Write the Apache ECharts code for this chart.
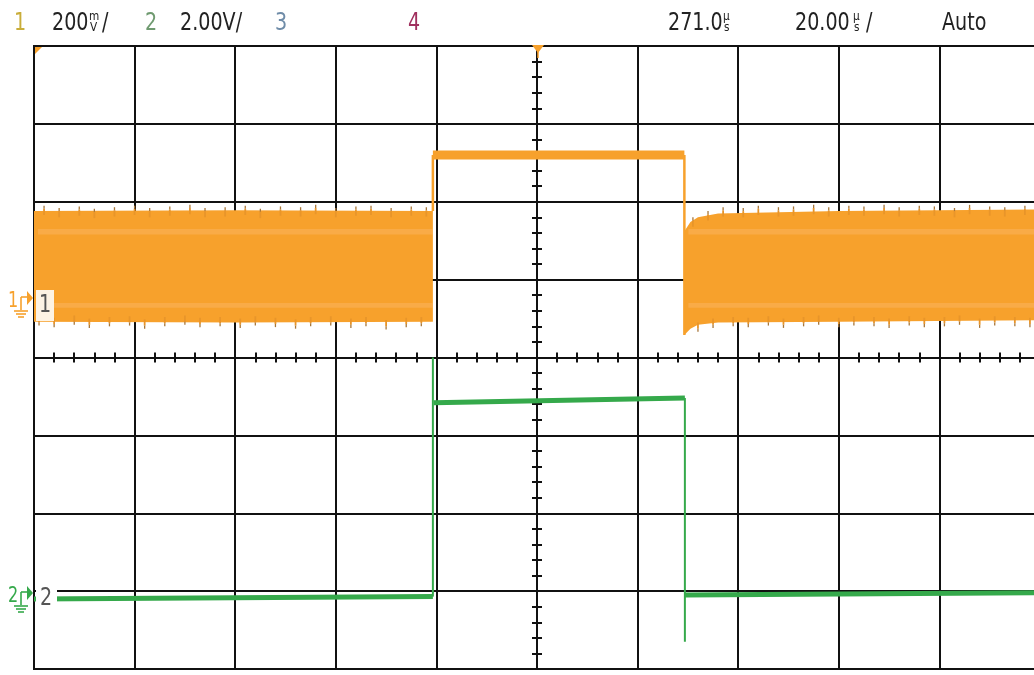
<!DOCTYPE html>
<html><head><meta charset="utf-8">
<script src="https://cdn.jsdelivr.net/npm/echarts@6/dist/echarts.min.js"></script>
<style>html,body{margin:0;padding:0;background:#fff}#c{width:1034px;height:675px}</style>
</head><body><div id="c"></div>
<script>
// ---- axes: time in µs relative to screen centre (20 µs/div), vertical in divisions ----
const timeRange = [-100, 100];
const divRange = [-4, 4];

// ---- header readouts ----
const headerMain = ['1', '200', '/', '2', '2.00V/', '3', '4', '271.0', '20.00', '/', 'Auto'];
const headerUnits = [['m', 'V'], ['µ', 's'], ['µ', 's']];

// ---- channel 1 (orange): noisy band before/after the pulse, flat level during pulse ----
const ch1BandLeftX = [-100, -60, -20.7];
const ch1BandLeftTop = [1.88, 1.89, 1.88];
const ch1BandLeftBottom = [0.46, 0.45, 0.46];
const ch1BandRightX = [29.3, 30.5, 32, 36, 60, 100];
const ch1BandRightTop = [1.62, 1.74, 1.80, 1.85, 1.88, 1.90];
const ch1BandRightBottom = [0.29, 0.37, 0.42, 0.45, 0.46, 0.48];
const ch1Stripes = [[1.58, 1.65], [0.64, 0.70]];
// noise spikes on the band edges (tip positions)
const ch1TopSpikeX = [-98,-95,-91,-88,-84,-80,-77,-73,-69,-66,-62,-58,-55,-51,-47,-44,-40,-36,-33,-29,-25,-22,
                      31,34,37,41,44,48,51,55,58,62,65,69,72,76,79,83,86,90,93,97];
const ch1TopSpikeY = [1.95,1.92,1.94,1.91,1.93,1.95,1.92,1.94,1.96,1.92,1.93,1.95,1.91,1.94,1.93,1.96,1.92,1.94,1.95,1.92,1.94,1.93,
                      1.80,1.88,1.93,1.92,1.95,1.93,1.94,1.96,1.93,1.95,1.94,1.96,1.93,1.95,1.94,1.92,1.96,1.94,1.93,1.95];
const ch1BottomSpikeX = [-99,-96,-92,-89,-85,-81,-78,-74,-70,-67,-63,-59,-56,-52,-48,-45,-41,-37,-34,-30,-26,-23,
                         32,35,39,42,46,49,53,56,60,63,67,70,74,77,81,84,88,91,95,98];
const ch1BottomSpikeY = [0.41,0.39,0.42,0.38,0.40,0.41,0.37,0.40,0.42,0.39,0.40,0.38,0.41,0.39,0.37,0.40,0.41,0.38,0.40,0.36,0.39,0.40,
                         0.33,0.38,0.40,0.39,0.41,0.38,0.40,0.42,0.39,0.41,0.40,0.38,0.41,0.39,0.40,0.42,0.38,0.41,0.40,0.39];
const ch1PulseX = [-20.7, 29.3];
const ch1PulseLevel = [2.60, 2.60];
const ch1RiseX = [-20.7, -20.7];
const ch1RiseY = [1.88, 2.60];
const ch1FallX = [29.3, 29.3];
const ch1FallY = [2.60, 0.29];

// ---- channel 2 (green): logic-level pulse ----
const ch2LowLeftX = [-100, -20.7];
const ch2LowLeftY = [-3.10, -3.07];
const ch2RiseX = [-20.7, -20.7];
const ch2RiseY = [-3.07, 0.0];
const ch2HighX = [-20.5, 29.4];
const ch2HighY = [-0.58, -0.52];
const ch2FallX = [29.4, 29.4];
const ch2FallY = [-0.52, -3.65];
const ch2LowRightX = [29.4, 100];
const ch2LowRightY = [-3.05, -3.02];

const ORANGE = '#f7a12c';
const ORANGE_LIGHT = '#fab868';
const GREEN = '#35a94b';

const zip = (xs, ys) => xs.map((x, i) => [x, ys[i]]);

function bandSeries(xs, tops, bottoms) {
  return {
    type: 'custom', z: 3, silent: true, data: [0],
    renderItem: function (params, api) {
      const pts = [];
      xs.forEach((x, i) => pts.push(api.coord([x, tops[i]])));
      for (let i = xs.length - 1; i >= 0; i--) pts.push(api.coord([xs[i], bottoms[i]]));
      const children = [{ type: 'polygon', shape: { points: pts }, style: { fill: ORANGE } }];
      ch1Stripes.forEach(s => {
        const a = api.coord([xs[0], s[1]]);
        const b = api.coord([xs[xs.length - 1], s[0]]);
        children.push({ type: 'rect', shape: { x: a[0] + 4, y: a[1], width: b[0] - a[0] - 4, height: b[1] - a[1] },
          style: { fill: ORANGE_LIGHT, opacity: 0.45 } });
      });
      return { type: 'group', children: children };
    }
  };
}

function spikeSeries(xs, ys, dir) {
  return {
    type: 'custom', z: 3, silent: true, data: [0],
    renderItem: function (params, api) {
      const children = [];
      xs.forEach((x, i) => {
        const a = api.coord([x, ys[i]]);
        const b = api.coord([x, ys[i] - dir * 0.12]);
        const m = api.coord([x, ys[i] - dir * 0.04]);
        children.push({ type: 'line', shape: { x1: m[0], y1: m[1], x2: b[0], y2: b[1] },
          style: { stroke: '#e8952a', lineWidth: 1.8 } });
        children.push({ type: 'line', shape: { x1: a[0], y1: a[1], x2: m[0], y2: m[1] },
          style: { stroke: '#a8773a', lineWidth: 1.3 } });
      });
      return { type: 'group', children: children };
    }
  };
}

function lineSeries(data, color, width, z) {
  return { type: 'line', data: data, symbol: 'none', silent: true, z: z || 4,
    lineStyle: { color: color, width: width, cap: 'butt' }, animation: false };
}

const FONT_FAMILY = '"Liberation Sans Narrow","DejaVu Sans Condensed","DejaVu Sans",sans-serif';

function groundMarker(x, y, color, num) {
  return {
    type: 'group', x: x, y: y, z: 12, children: [
      { type: 'text', x: 0, y: -12, scaleX: 0.85, style: { text: num, font: '21px ' + FONT_FAMILY, fill: color } },
      { type: 'line', shape: { x1: 13, y1: -6, x2: 13, y2: 7 }, style: { stroke: color, lineWidth: 1.6 } },
      { type: 'line', shape: { x1: 13, y1: -6, x2: 19, y2: -6 }, style: { stroke: color, lineWidth: 1.6 } },
      { type: 'line', shape: { x1: 6, y1: 8, x2: 20, y2: 8 }, style: { stroke: color, lineWidth: 1.6 } },
      { type: 'line', shape: { x1: 8, y1: 11, x2: 18, y2: 11 }, style: { stroke: color, lineWidth: 1.6 } },
      { type: 'line', shape: { x1: 10, y1: 14, x2: 16, y2: 14 }, style: { stroke: color, lineWidth: 1.6 } },
      { type: 'polygon', shape: { points: [[19, -12], [25, -5], [19, 2]] }, style: { fill: color } }
    ]
  };
}

const HFONT = '25px ' + FONT_FAMILY;
const UFONT = '13px ' + FONT_FAMILY;
const headerX = [14, 52, 102, 145, 180, 275, 408, 668, 795, 866, 942];
const headerColors = ['#c9ad3a', '#222', '#222', '#6f9a70', '#222', '#6f8ca8', '#a0305e', '#222', '#222', '#222', '#222'];
const unitX = [89, 723, 853];

const chart = echarts.init(document.getElementById('c'), null, { renderer: 'canvas' });
const thinAxis = (inside) => ({
  type: 'value', min: timeRange[0], max: timeRange[1], interval: 4,
  axisLine: { show: true, onZero: true, onZeroAxisIndex: 0, lineStyle: { color: '#111', width: 2 } },
  axisTick: { show: true, inside: inside, length: 5, lineStyle: { color: '#111', width: 2 } },
  axisLabel: { show: false }, splitLine: { show: false }
});
const thinYAxis = (inside) => ({
  type: 'value', min: divRange[0], max: divRange[1], interval: 0.2,
  axisLine: { show: true, onZero: true, onZeroAxisIndex: 0, lineStyle: { color: '#111', width: 2 } },
  axisTick: { show: true, inside: inside, length: 5, lineStyle: { color: '#111', width: 2 } },
  axisLabel: { show: false }, splitLine: { show: false }
});

const graphics = [];
headerMain.forEach((t, i) => graphics.push({ type: 'text', x: headerX[i], y: 23, z: 10, scaleX: 0.85,
  style: { text: t, font: HFONT, fill: headerColors[i], verticalAlign: 'middle' } }));
headerUnits.forEach((u, i) => {
  graphics.push({ type: 'text', x: unitX[i], y: 17, z: 10, scaleX: 0.9, style: { text: u[0], font: UFONT, fill: '#222', verticalAlign: 'middle' } });
  graphics.push({ type: 'text', x: unitX[i] + 1, y: 28, z: 10, scaleX: 0.9, style: { text: u[1], font: UFONT, fill: '#222', verticalAlign: 'middle' } });
});
graphics.push(
  { type: 'polygon', z: 10, shape: { points: [[532, 45], [544, 45], [538, 53]] }, style: { fill: ORANGE } },
  { type: 'line', z: 10, shape: { x1: 538, y1: 50, x2: 538, y2: 58 }, style: { stroke: ORANGE, lineWidth: 1.5 } },
  { type: 'polygon', z: 10, shape: { points: [[35, 47], [42, 47], [35, 54]] }, style: { fill: ORANGE } },
  groundMarker(8, 303, ORANGE, '1'),
  groundMarker(8, 598, GREEN, '2'),
  { type: 'rect', z: 10, shape: { x: 36, y: 290, width: 18, height: 31 }, style: { fill: '#fdf3e4' } },
  { type: 'text', z: 11, x: 39, y: 305, scaleX: 0.85, style: { text: '1', font: HFONT, fill: '#555', verticalAlign: 'middle' } },
  { type: 'rect', z: 10, shape: { x: 36, y: 586, width: 21, height: 24 }, style: { fill: '#ffffff' } },
  { type: 'text', z: 11, x: 40, y: 598, scaleX: 0.85, style: { text: '2', font: HFONT, fill: '#555', verticalAlign: 'middle' } }
);

chart.setOption({
  animation: false,
  backgroundColor: '#ffffff',
  grid: { left: 34, top: 46, width: 1006, height: 623, outerBoundsMode: 'none',
    show: true, borderColor: '#111', borderWidth: 2, backgroundColor: 'transparent' },
  xAxis: [
    { type: 'value', min: timeRange[0], max: timeRange[1], interval: 20,
      axisLine: { show: false }, axisTick: { show: false }, axisLabel: { show: false },
      splitLine: { show: true, lineStyle: { color: '#111', width: 2 } } },
    thinAxis(false), thinAxis(true)
  ],
  yAxis: [
    { type: 'value', min: divRange[0], max: divRange[1], interval: 1,
      axisLine: { show: false }, axisTick: { show: false }, axisLabel: { show: false },
      splitLine: { show: true, lineStyle: { color: '#111', width: 2 } } },
    thinYAxis(false), thinYAxis(true)
  ],
  series: [
    bandSeries(ch1BandLeftX, ch1BandLeftTop, ch1BandLeftBottom),
    bandSeries(ch1BandRightX, ch1BandRightTop, ch1BandRightBottom),
    spikeSeries(ch1TopSpikeX, ch1TopSpikeY, 1),
    spikeSeries(ch1BottomSpikeX, ch1BottomSpikeY, -1),
    lineSeries(zip(ch1RiseX, ch1RiseY), ORANGE, 2.5),
    lineSeries(zip(ch1FallX, ch1FallY), ORANGE, 2.5),
    lineSeries(zip(ch1PulseX, ch1PulseLevel), ORANGE, 9),
    lineSeries(zip(ch2LowLeftX, ch2LowLeftY), GREEN, 5),
    lineSeries(zip(ch2RiseX, ch2RiseY), GREEN, 2),
    lineSeries(zip(ch2HighX, ch2HighY), GREEN, 5),
    lineSeries(zip(ch2FallX, ch2FallY), GREEN, 2),
    lineSeries(zip(ch2LowRightX, ch2LowRightY), GREEN, 5)
  ],
  graphic: graphics
});
</script></body></html>
